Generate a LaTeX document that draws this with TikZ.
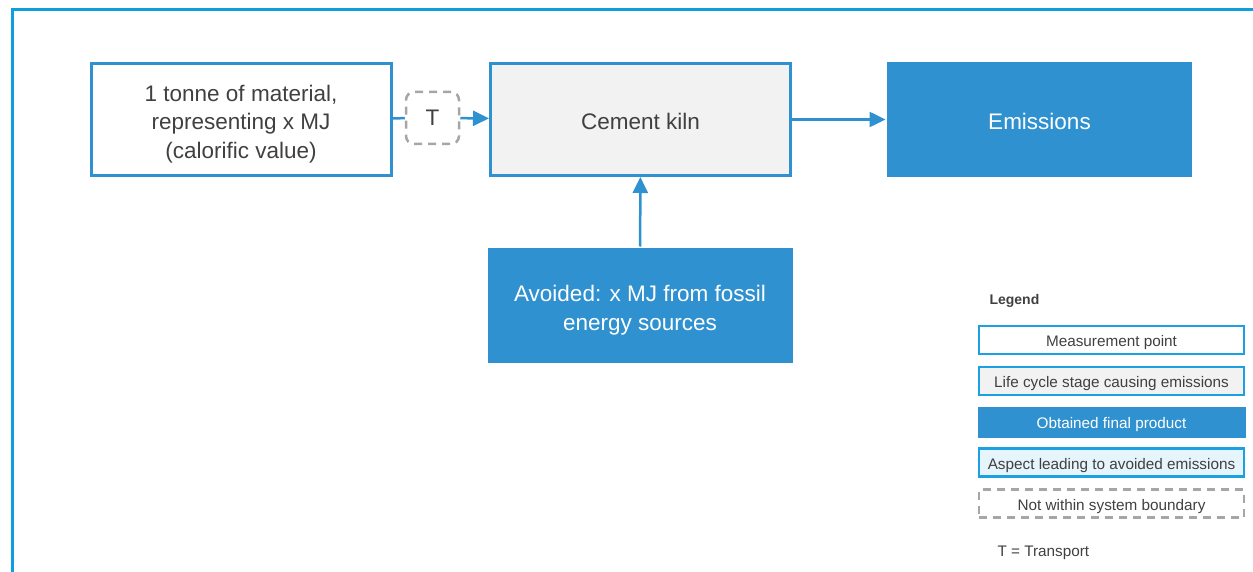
\documentclass[tikz,border=0pt]{standalone}
\usepackage{fontspec}
\setmainfont{Liberation Sans}
\usetikzlibrary{arrows.meta}
\definecolor{frameblue}{HTML}{0E9FE0}
\definecolor{boxblue}{HTML}{2F91CF}
\definecolor{lgdblue}{HTML}{1BA1E2}
\definecolor{kilngray}{HTML}{F2F2F2}
\definecolor{avoidfill}{HTML}{E6F4FC}
\definecolor{dashgray}{HTML}{A6A6A6}
\definecolor{txtgray}{HTML}{404040}
\begin{document}
\begin{tikzpicture}[x=1pt,y=-1pt]
    \tikzset{
        box/.style={draw=boxblue,line width=3pt,minimum width=300pt,minimum height=112pt,align=center,text=txtgray,text height=20.5pt,font=\fontsize{22.5}{28.7}\selectfont},
        product/.style={box,fill=boxblue,text=white},
        dashbox/.style={draw=dashgray,line width=2.5pt,dash pattern=on 8pt off 6pt,rounded corners=8pt},
        lgd/.style={draw=lgdblue,line width=2.5pt,minimum width=265pt,minimum height=28pt,text=txtgray,text height=16.5pt,font=\fontsize{15.3}{18}\selectfont},
        link/.style={draw=boxblue,line width=2.5pt},
        flow/.style={link,-{Triangle[length=16pt,width=15pt]}},}
    \useasboundingbox (0,0) rectangle (1253,572);
    \clip (0,0) rectangle (1253,572);
    \draw [frameblue,line width=3pt] (12.5,9.5) rectangle (1290,610);
    % process chain
    \node [box,text height=82.5pt] (mat) at (241,119.5) {1 tonne of material,\\representing x MJ\\(calorific value)};
    \node [dashbox,minimum width=53pt,minimum height=52pt,text=txtgray,font=\fontsize{22.5}{27}\selectfont] (tr) at (432.5,118) {T};
    \node [box,fill=kilngray] (kiln) at (640.5,119.5) {Cement kiln};
    \node [product,draw=none,minimum width=305pt,minimum height=115pt] (emis) at (1039.5,119.5) {Emissions};
    \node [product,draw=none,minimum width=305pt,minimum height=115pt,text height=54pt] (avoid) at (640,305.5) {Avoided: x MJ from fossil\\energy sources};
    \draw [link] (mat) -- (tr);
    \draw [flow] (tr) -- (kiln);
    \draw [flow] (kiln) -- (emis);
    \draw [flow] (avoid) -- (kiln);
    % legend
    \node [anchor=west,text=txtgray,font=\fontsize{14}{17}\selectfont\bfseries] (lgdtitle) at (986,301) {Legend};
    \node [lgd] (lgd1) at (1111.5,340) {Measurement point};
    \node [lgd,fill=kilngray] (lgd2) at (1111.5,381) {Life cycle stage causing emissions};
    \node [lgd,draw=none,fill=boxblue,text=white,minimum width=268pt,minimum height=31pt] (lgd3) at (1111.5,422) {Obtained final product};
    \node [lgd,fill=avoidfill] (lgd4) at (1111.5,462.5) {Aspect leading to avoided emissions};
    \node [lgd,dashbox,rounded corners=0pt] (lgd5) at (1111.5,503.5) {Not within system boundary};
    \node [anchor=west,text=txtgray,font=\fontsize{15.3}{18}\selectfont] (tnote) at (994,553) {T = Transport};
\end{tikzpicture}
\end{document}
